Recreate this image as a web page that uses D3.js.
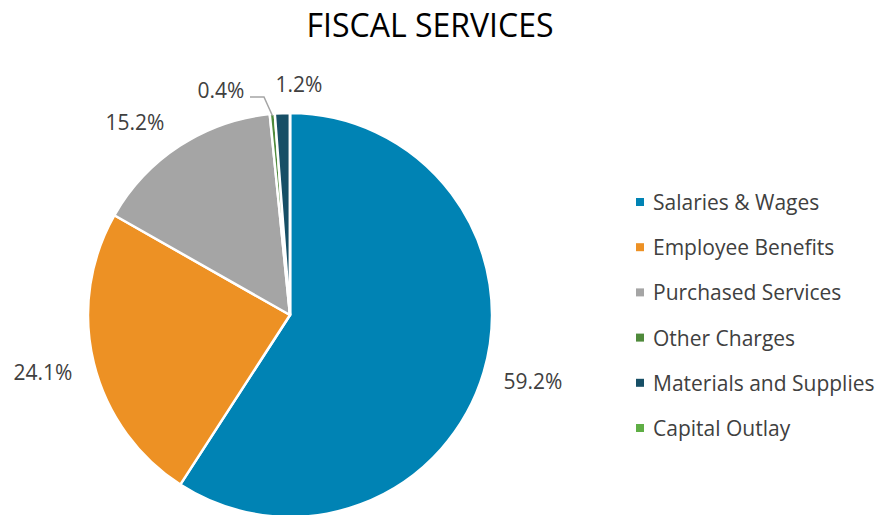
<!DOCTYPE html>
<html><head><meta charset="utf-8">
<script src="https://cdn.jsdelivr.net/npm/d3@7"></script>
<style>body{margin:0;background:#fff;} svg{display:block;}</style>
</head><body>
<svg id="c" width="877" height="515"></svg>
<script>
const title = "FISCAL SERVICES";
const categories = ["Salaries & Wages","Employee Benefits","Purchased Services","Other Charges","Materials and Supplies","Capital Outlay"];
const values = [59.2, 24.1, 15.2, 0.4, 1.2, 0];
const labels = ["59.2%","24.1%","15.2%","0.4%","1.2%",""];
const colors = ["#0083B4","#ED9124","#A5A5A5","#4F8A3B","#174F66","#5FAE45"];

const svg = d3.select("#c");
const font = "'Open Sans', Lato, sans-serif";
const cx = 290, cy = 315, r = 202;

svg.append("text").attr("x", 430).attr("y", 37).attr("text-anchor","middle")
  .attr("font-family", font).attr("font-size", 32).attr("fill","#000").text(title);

const pie = d3.pie().sort(null).value(d => d)(values);
const arc = d3.arc().innerRadius(0).outerRadius(r);
const g = svg.append("g").attr("transform", `translate(${cx},${cy})`);
g.selectAll("path").data(pie).join("path")
  .attr("d", arc).attr("fill", (d,i) => colors[i])
  .attr("stroke", "#fff").attr("stroke-width", 2.5).attr("stroke-linejoin","round");

const labelPos = d3.arc().innerRadius(r*1.22).outerRadius(r*1.22);
pie.forEach((d,i) => {
  if (!labels[i]) return;
  let [x,y] = labelPos.centroid(d);
  if (i === 3) { x = -69; y = -217; }
  if (i === 4) { x = 9; y = -223; }
  if (i === 0) { x = 243; y = 74; }
  if (i === 1) { x = -247; y = 65; }
  if (i === 2) { x = -155; y = -185; }
  g.append("text").attr("x", x).attr("y", y).attr("text-anchor", "middle")
    .attr("font-family", font).attr("font-size", 21).attr("fill","#404040").text(labels[i]);
});
const a3 = (pie[3].startAngle + pie[3].endAngle)/2;
const ex = Math.sin(a3)*r*0.99, ey = -Math.cos(a3)*r*0.99;
g.append("polyline").attr("points", `${-40},${-218} ${-26},${-218} ${ex},${ey}`)
  .attr("fill","none").attr("stroke","#A5A5A5").attr("stroke-width",1.5);

const leg = svg.append("g").attr("transform","translate(636,202)");
categories.forEach((c,i) => {
  const row = leg.append("g").attr("transform", `translate(0,${i*45.2})`);
  row.append("rect").attr("x",0).attr("y",-4).attr("width",8).attr("height",8).attr("fill",colors[i]);
  row.append("text").attr("x",17).attr("y",8).attr("font-family",font).attr("font-size",21)
    .attr("fill","#404040").text(c);
});
</script>
</body></html>
